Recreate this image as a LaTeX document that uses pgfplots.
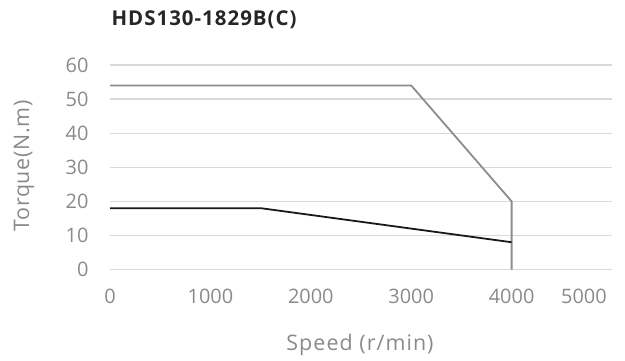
\documentclass[border=0pt]{standalone}
\usepackage{fontspec}
\setmainfont{Open Sans}
\usepackage{pgfplots}
\pgfplotsset{compat=1.18}
\definecolor{tickgray}{HTML}{8A8A8A}
\definecolor{linegray}{HTML}{8C8C8C}
\definecolor{gridgray}{HTML}{D9D9D9}
\definecolor{titlec}{HTML}{262626}
\begin{document}
\begin{tikzpicture}[x=1bp,y=1bp]
\useasboundingbox (0,0) rectangle (625,360);
\begin{axis}[
  at={(110bp,90.5bp)}, anchor=south west,
  scale only axis, width=502bp, height=204.5bp,
  xmin=0, xmax=5000, ymin=0, ymax=60,
  axis line style={draw=none},
  xtick={0,1000,2000,3000,4000,4720},
  xticklabels={0,1000,2000,3000,4000,5000},
  ytick={0,10,20,30,40,50,60},
  major tick length=0pt,
  ymajorgrids, grid style={gridgray, line width=1.2pt},
  tick label style={font=\fontsize{20}{22}\selectfont, text=tickgray},
  xticklabel style={yshift=-16bp},
  yticklabel style={xshift=-18bp},
  /pgf/number format/assume math mode=true,
  scaled ticks=false,
  clip=false,
]
\addplot[linegray, line width=1.8pt, line join=round] coordinates {(0,54) (3000,54) (4000,20) (4000,0)};
\addplot[black!90, line width=1.8pt, line join=round] coordinates {(0,18) (1500,18) (4000,8)};
\end{axis}
\node[anchor=west, text=titlec, font=\bfseries\fontsize{20.5}{24}\selectfont\addfontfeature{LetterSpace=5}] at (108,340) {HDS130-1829B(C)};
\node[text=tickgray, font=\fontsize{21.5}{24}\selectfont\addfontfeature{LetterSpace=5}] at (360,15) {Speed (r/min)};
\node[text=tickgray, rotate=90, font=\fontsize{21.5}{24}\selectfont\addfontfeature{LetterSpace=3}] at (24,194) {Torque(N.m)};
\end{tikzpicture}
\end{document}
